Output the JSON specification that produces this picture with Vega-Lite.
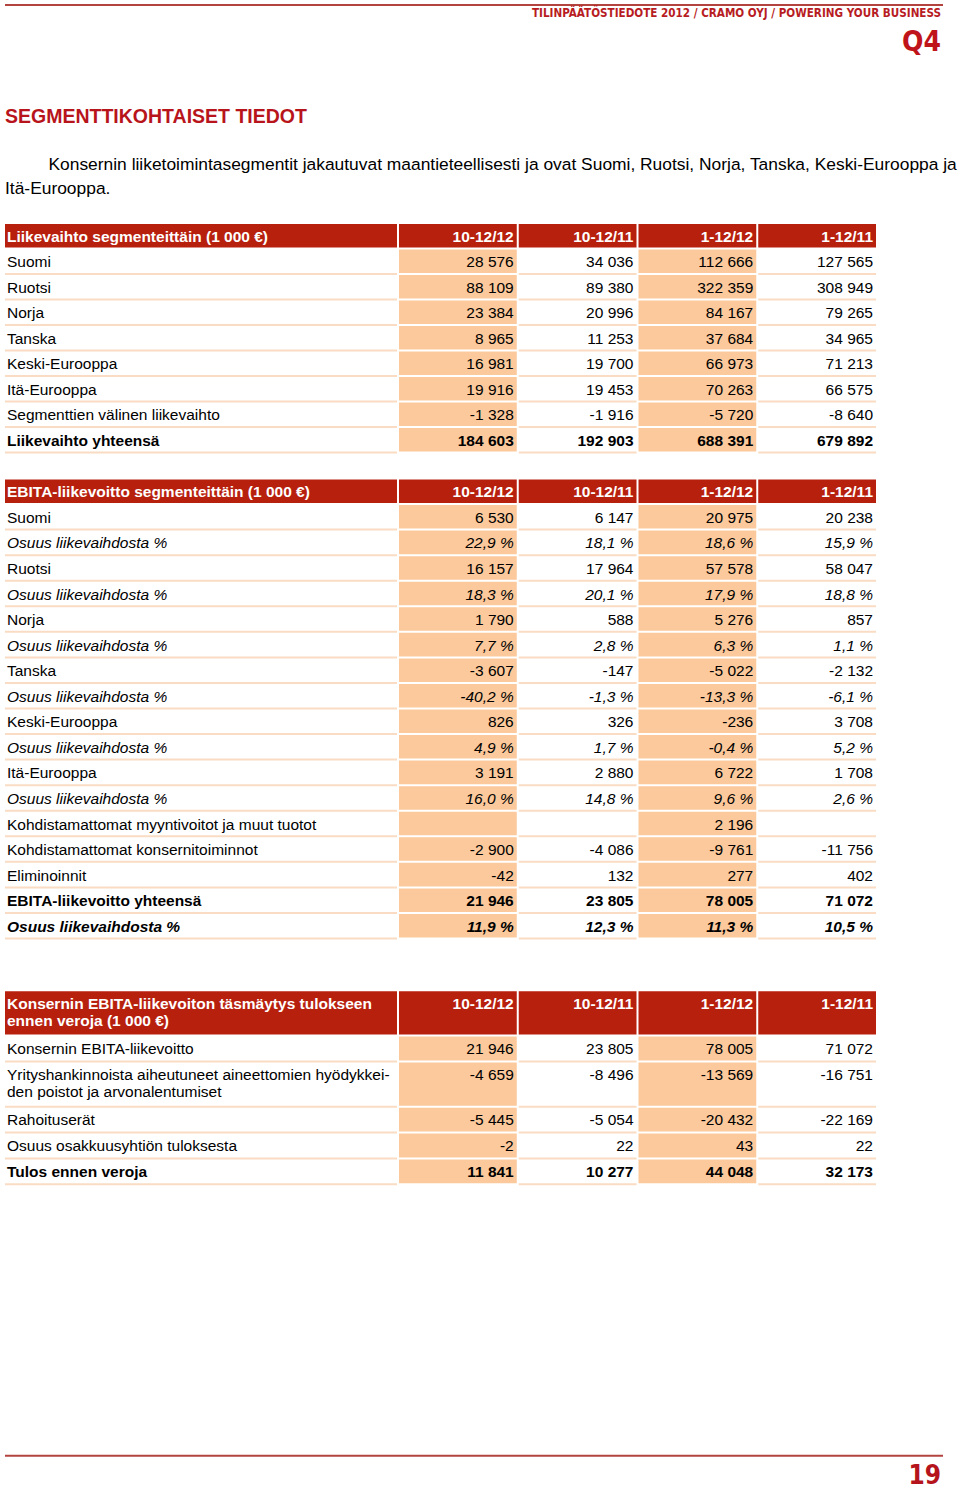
{
  "$schema": "https://vega.github.io/schema/vega-lite/v6.json",
  "padding": {"left": 4, "top": 4, "right": 0, "bottom": 0},
  "autosize": {"type": "pad"},
  "background": "#ffffff",
  "config": {"view": {"stroke": null}, "font": "Liberation Sans"},
  "datasets": {
    "rows": [
      {"t": 1, "row": 0, "rowEnd": 1, "kind": "header", "label": "Liikevaihto segmenteittäin (1 000 €)", "10-12/12": "10-12/12", "10-12/11": "10-12/11", "1-12/12": "1-12/12", "1-12/11": "1-12/11"},
      {"t": 1, "row": 1, "rowEnd": 2, "kind": "body", "label": "Suomi", "10-12/12": "28 576", "10-12/11": "34 036", "1-12/12": "112 666", "1-12/11": "127 565"},
      {"t": 1, "row": 2, "rowEnd": 3, "kind": "body", "label": "Ruotsi", "10-12/12": "88 109", "10-12/11": "89 380", "1-12/12": "322 359", "1-12/11": "308 949"},
      {"t": 1, "row": 3, "rowEnd": 4, "kind": "body", "label": "Norja", "10-12/12": "23 384", "10-12/11": "20 996", "1-12/12": "84 167", "1-12/11": "79 265"},
      {"t": 1, "row": 4, "rowEnd": 5, "kind": "body", "label": "Tanska", "10-12/12": "8 965", "10-12/11": "11 253", "1-12/12": "37 684", "1-12/11": "34 965"},
      {"t": 1, "row": 5, "rowEnd": 6, "kind": "body", "label": "Keski-Eurooppa", "10-12/12": "16 981", "10-12/11": "19 700", "1-12/12": "66 973", "1-12/11": "71 213"},
      {"t": 1, "row": 6, "rowEnd": 7, "kind": "body", "label": "Itä-Eurooppa", "10-12/12": "19 916", "10-12/11": "19 453", "1-12/12": "70 263", "1-12/11": "66 575"},
      {"t": 1, "row": 7, "rowEnd": 8, "kind": "body", "label": "Segmenttien välinen liikevaihto", "10-12/12": "-1 328", "10-12/11": "-1 916", "1-12/12": "-5 720", "1-12/11": "-8 640"},
      {"t": 1, "row": 8, "rowEnd": 9, "kind": "total", "label": "Liikevaihto yhteensä", "10-12/12": "184 603", "10-12/11": "192 903", "1-12/12": "688 391", "1-12/11": "679 892"},

      {"t": 2, "row": 0, "rowEnd": 1, "kind": "header", "label": "EBITA-liikevoitto segmenteittäin (1 000 €)", "10-12/12": "10-12/12", "10-12/11": "10-12/11", "1-12/12": "1-12/12", "1-12/11": "1-12/11"},
      {"t": 2, "row": 1, "rowEnd": 2, "kind": "body", "label": "Suomi", "10-12/12": "6 530", "10-12/11": "6 147", "1-12/12": "20 975", "1-12/11": "20 238"},
      {"t": 2, "row": 2, "rowEnd": 3, "kind": "share", "label": "Osuus liikevaihdosta %", "10-12/12": "22,9 %", "10-12/11": "18,1 %", "1-12/12": "18,6 %", "1-12/11": "15,9 %"},
      {"t": 2, "row": 3, "rowEnd": 4, "kind": "body", "label": "Ruotsi", "10-12/12": "16 157", "10-12/11": "17 964", "1-12/12": "57 578", "1-12/11": "58 047"},
      {"t": 2, "row": 4, "rowEnd": 5, "kind": "share", "label": "Osuus liikevaihdosta %", "10-12/12": "18,3 %", "10-12/11": "20,1 %", "1-12/12": "17,9 %", "1-12/11": "18,8 %"},
      {"t": 2, "row": 5, "rowEnd": 6, "kind": "body", "label": "Norja", "10-12/12": "1 790", "10-12/11": "588", "1-12/12": "5 276", "1-12/11": "857"},
      {"t": 2, "row": 6, "rowEnd": 7, "kind": "share", "label": "Osuus liikevaihdosta %", "10-12/12": "7,7 %", "10-12/11": "2,8 %", "1-12/12": "6,3 %", "1-12/11": "1,1 %"},
      {"t": 2, "row": 7, "rowEnd": 8, "kind": "body", "label": "Tanska", "10-12/12": "-3 607", "10-12/11": "-147", "1-12/12": "-5 022", "1-12/11": "-2 132"},
      {"t": 2, "row": 8, "rowEnd": 9, "kind": "share", "label": "Osuus liikevaihdosta %", "10-12/12": "-40,2 %", "10-12/11": "-1,3 %", "1-12/12": "-13,3 %", "1-12/11": "-6,1 %"},
      {"t": 2, "row": 9, "rowEnd": 10, "kind": "body", "label": "Keski-Eurooppa", "10-12/12": "826", "10-12/11": "326", "1-12/12": "-236", "1-12/11": "3 708"},
      {"t": 2, "row": 10, "rowEnd": 11, "kind": "share", "label": "Osuus liikevaihdosta %", "10-12/12": "4,9 %", "10-12/11": "1,7 %", "1-12/12": "-0,4 %", "1-12/11": "5,2 %"},
      {"t": 2, "row": 11, "rowEnd": 12, "kind": "body", "label": "Itä-Eurooppa", "10-12/12": "3 191", "10-12/11": "2 880", "1-12/12": "6 722", "1-12/11": "1 708"},
      {"t": 2, "row": 12, "rowEnd": 13, "kind": "share", "label": "Osuus liikevaihdosta %", "10-12/12": "16,0 %", "10-12/11": "14,8 %", "1-12/12": "9,6 %", "1-12/11": "2,6 %"},
      {"t": 2, "row": 13, "rowEnd": 14, "kind": "body", "label": "Kohdistamattomat myyntivoitot ja muut tuotot", "10-12/12": "", "10-12/11": "", "1-12/12": "2 196", "1-12/11": ""},
      {"t": 2, "row": 14, "rowEnd": 15, "kind": "body", "label": "Kohdistamattomat konsernitoiminnot", "10-12/12": "-2 900", "10-12/11": "-4 086", "1-12/12": "-9 761", "1-12/11": "-11 756"},
      {"t": 2, "row": 15, "rowEnd": 16, "kind": "body", "label": "Eliminoinnit", "10-12/12": "-42", "10-12/11": "132", "1-12/12": "277", "1-12/11": "402"},
      {"t": 2, "row": 16, "rowEnd": 17, "kind": "total", "label": "EBITA-liikevoitto yhteensä", "10-12/12": "21 946", "10-12/11": "23 805", "1-12/12": "78 005", "1-12/11": "71 072"},
      {"t": 2, "row": 17, "rowEnd": 18, "kind": "sharetotal", "label": "Osuus liikevaihdosta %", "10-12/12": "11,9 %", "10-12/11": "12,3 %", "1-12/12": "11,3 %", "1-12/11": "10,5 %"},

      {"t": 3, "row": 0, "rowEnd": 7, "kind": "header", "label": "Konsernin EBITA-liikevoiton täsmäytys tulokseen\nennen veroja (1 000 €)", "10-12/12": "10-12/12", "10-12/11": "10-12/11", "1-12/12": "1-12/12", "1-12/11": "1-12/11"},
      {"t": 3, "row": 7, "rowEnd": 11, "kind": "body", "label": "Konsernin EBITA-liikevoitto", "10-12/12": "21 946", "10-12/11": "23 805", "1-12/12": "78 005", "1-12/11": "71 072"},
      {"t": 3, "row": 11, "rowEnd": 18, "kind": "body", "label": "Yrityshankinnoista aiheutuneet aineettomien hyödykkei-\nden poistot ja arvonalentumiset", "10-12/12": "-4 659", "10-12/11": "-8 496", "1-12/12": "-13 569", "1-12/11": "-16 751"},
      {"t": 3, "row": 18, "rowEnd": 22, "kind": "body", "label": "Rahoituserät", "10-12/12": "-5 445", "10-12/11": "-5 054", "1-12/12": "-20 432", "1-12/11": "-22 169"},
      {"t": 3, "row": 22, "rowEnd": 26, "kind": "body", "label": "Osuus osakkuusyhtiön tuloksesta", "10-12/12": "-2", "10-12/11": "22", "1-12/12": "43", "1-12/11": "22"},
      {"t": 3, "row": 26, "rowEnd": 30, "kind": "total", "label": "Tulos ennen veroja", "10-12/12": "11 841", "10-12/11": "10 277", "1-12/12": "44 048", "1-12/11": "32 173"}
    ]
  },
  "spacing": 50,
  "vconcat": [
    {
      "width": 938, "height": 2,
      "data": {"values": [{"edge": "top"}]},
      "mark": {"type": "rule", "color": "#b3433f", "strokeWidth": 2},
      "encoding": {"y": {"datum": 1, "type": "quantitative", "scale": {"domain": [0, 2]}, "axis": null}},
      "title": {"text": "TILINPÄÄTÖSTIEDOTE 2012 / CRAMO OYJ / POWERING YOUR BUSINESS", "subtitle": "Q4", "orient": "bottom", "anchor": "end", "dx": -3, "offset": 2, "font": "Liberation Sans Narrow, DejaVu Sans Condensed, sans-serif", "fontSize": 11.6, "fontWeight": "bold", "color": "#b81c23", "subtitleFont": "Liberation Sans Narrow, DejaVu Sans Condensed, sans-serif", "subtitleFontSize": 28, "subtitleFontWeight": "bold", "subtitleColor": "#c0141b", "subtitlePadding": 9}
    },
    {
      "spacing": 25.5,
      "vconcat": [
        {
          "title": {"text": "SEGMENTTIKOHTAISET TIEDOT", "subtitle": ["\u200b\u00a0\u00a0\u00a0\u00a0\u00a0\u00a0\u00a0\u00a0\u00a0Konsernin liiketoimintasegmentit jakautuvat maantieteellisesti ja ovat Suomi, Ruotsi, Norja, Tanska, Keski-Eurooppa ja", "Itä-Eurooppa."], "anchor": "start", "orient": "top", "dx": 0, "offset": 26, "font": "Liberation Sans", "fontSize": 19.5, "fontWeight": "bold", "color": "#b8141b", "subtitleFont": "Liberation Sans", "subtitleFontSize": 17.4, "subtitleColor": "#000000", "subtitleFontWeight": "normal", "subtitleLineHeight": 24, "subtitlePadding": 28},
          "spacing": 2,
          "hconcat": [
            {
              "width": 392, "height": 229.5,
              "data": {"name": "rows"},
              "transform": [{"filter": "datum.t == 1"}],
              "encoding": {"y": {"field": "row", "type": "quantitative", "scale": {"domain": [0, 9], "reverse": true, "nice": false, "zero": false}, "axis": null}},
              "layer": [
                {"transform": [{"filter": "datum.kind == 'header'"}], "mark": {"type": "rect", "color": "#b8200e", "y2Offset": -2}, "encoding": {"y2": {"field": "rowEnd"}}},
                {"transform": [{"filter": "datum.kind != 'header'"}], "mark": {"type": "rect", "color": "#f9dcc3", "yOffset": -2}, "encoding": {"y": {"field": "rowEnd", "type": "quantitative"}, "y2": {"field": "rowEnd"}}},
                {"mark": {"type": "text", "align": "left", "baseline": "alphabetic", "dx": 2, "dy": 17.8, "font": "Liberation Sans", "fontSize": 15.5, "lineBreak": "\n", "lineHeight": 17.5, "fontWeight": {"expr": "datum.kind == 'header' || datum.kind == 'total' || datum.kind == 'sharetotal' ? 'bold' : 'normal'"}, "fontStyle": {"expr": "datum.kind == 'share' || datum.kind == 'sharetotal' ? 'italic' : 'normal'"}},
                 "encoding": {"x": {"datum": 0, "type": "quantitative", "scale": {"domain": [0, 1]}, "axis": null}, "text": {"field": "label"}, "color": {"field": "kind", "type": "nominal", "scale": {"domain": ["header", "body", "total", "share", "sharetotal"], "range": ["#ffffff", "#000000", "#000000", "#000000", "#000000"]}, "legend": null}}}
              ]
            },
            {
              "width": 477, "height": 229.5,
              "data": {"name": "rows"},
              "transform": [{"filter": "datum.t == 1"}, {"fold": ["10-12/12", "10-12/11", "1-12/12", "1-12/11"], "as": ["col", "val"]}],
              "encoding": {
                "x": {"field": "col", "type": "nominal", "scale": {"type": "band", "domain": ["10-12/12", "10-12/11", "1-12/12", "1-12/11"], "paddingInner": 0.0167, "paddingOuter": 0}, "axis": null},
                "y": {"field": "row", "type": "quantitative", "scale": {"domain": [0, 9], "reverse": true, "nice": false, "zero": false}, "axis": null}
              },
              "layer": [
                {"transform": [{"filter": "datum.kind == 'header'"}], "mark": {"type": "rect", "color": "#b8200e", "y2Offset": -2}, "encoding": {"y2": {"field": "rowEnd"}}},
                {"transform": [{"filter": "datum.kind != 'header' && (datum.col == '10-12/12' || datum.col == '1-12/12')"}], "mark": {"type": "rect", "color": "#fbc99b", "y2Offset": -2}, "encoding": {"y2": {"field": "rowEnd"}}},
                {"transform": [{"filter": "datum.kind != 'header' && (datum.col == '10-12/11' || datum.col == '1-12/11')"}], "mark": {"type": "rect", "color": "#f9dcc3", "yOffset": -2}, "encoding": {"y": {"field": "rowEnd", "type": "quantitative"}, "y2": {"field": "rowEnd"}}},
                {"mark": {"type": "text", "align": "right", "baseline": "alphabetic", "dx": -3, "dy": 17.8, "font": "Liberation Sans", "fontSize": 15.5, "fontWeight": {"expr": "datum.kind == 'header' || datum.kind == 'total' || datum.kind == 'sharetotal' ? 'bold' : 'normal'"}, "fontStyle": {"expr": "datum.kind == 'share' || datum.kind == 'sharetotal' ? 'italic' : 'normal'"}},
                 "encoding": {"x": {"field": "col", "type": "nominal", "bandPosition": 1, "scale": {"type": "band", "domain": ["10-12/12", "10-12/11", "1-12/12", "1-12/11"], "paddingInner": 0.0167, "paddingOuter": 0}, "axis": null}, "text": {"field": "val"}, "color": {"field": "kind", "type": "nominal", "scale": {"domain": ["header", "body", "total", "share", "sharetotal"], "range": ["#ffffff", "#000000", "#000000", "#000000", "#000000"]}, "legend": null}}}
              ]
            }
          ]
        },
        {
          "spacing": 51.8,
          "vconcat": [
            {
              "spacing": 2,
              "hconcat": [
                {
                  "width": 392, "height": 460,
                  "data": {"name": "rows"},
                  "transform": [{"filter": "datum.t == 2"}],
                  "encoding": {"y": {"field": "row", "type": "quantitative", "scale": {"domain": [0, 18], "reverse": true, "nice": false, "zero": false}, "axis": null}},
                  "layer": [
                    {"transform": [{"filter": "datum.kind == 'header'"}], "mark": {"type": "rect", "color": "#b8200e", "y2Offset": -2}, "encoding": {"y2": {"field": "rowEnd"}}},
                    {"transform": [{"filter": "datum.kind != 'header'"}], "mark": {"type": "rect", "color": "#f9dcc3", "yOffset": -2}, "encoding": {"y": {"field": "rowEnd", "type": "quantitative"}, "y2": {"field": "rowEnd"}}},
                    {"mark": {"type": "text", "align": "left", "baseline": "alphabetic", "dx": 2, "dy": 17.8, "font": "Liberation Sans", "fontSize": 15.5, "lineBreak": "\n", "lineHeight": 17.5, "fontWeight": {"expr": "datum.kind == 'header' || datum.kind == 'total' || datum.kind == 'sharetotal' ? 'bold' : 'normal'"}, "fontStyle": {"expr": "datum.kind == 'share' || datum.kind == 'sharetotal' ? 'italic' : 'normal'"}},
                     "encoding": {"x": {"datum": 0, "type": "quantitative", "scale": {"domain": [0, 1]}, "axis": null}, "text": {"field": "label"}, "color": {"field": "kind", "type": "nominal", "scale": {"domain": ["header", "body", "total", "share", "sharetotal"], "range": ["#ffffff", "#000000", "#000000", "#000000", "#000000"]}, "legend": null}}}
                  ]
                },
                {
                  "width": 477, "height": 460,
                  "data": {"name": "rows"},
                  "transform": [{"filter": "datum.t == 2"}, {"fold": ["10-12/12", "10-12/11", "1-12/12", "1-12/11"], "as": ["col", "val"]}],
                  "encoding": {
                    "x": {"field": "col", "type": "nominal", "scale": {"type": "band", "domain": ["10-12/12", "10-12/11", "1-12/12", "1-12/11"], "paddingInner": 0.0167, "paddingOuter": 0}, "axis": null},
                    "y": {"field": "row", "type": "quantitative", "scale": {"domain": [0, 18], "reverse": true, "nice": false, "zero": false}, "axis": null}
                  },
                  "layer": [
                    {"transform": [{"filter": "datum.kind == 'header'"}], "mark": {"type": "rect", "color": "#b8200e", "y2Offset": -2}, "encoding": {"y2": {"field": "rowEnd"}}},
                    {"transform": [{"filter": "datum.kind != 'header' && (datum.col == '10-12/12' || datum.col == '1-12/12')"}], "mark": {"type": "rect", "color": "#fbc99b", "y2Offset": -2}, "encoding": {"y2": {"field": "rowEnd"}}},
                    {"transform": [{"filter": "datum.kind != 'header' && (datum.col == '10-12/11' || datum.col == '1-12/11')"}], "mark": {"type": "rect", "color": "#f9dcc3", "yOffset": -2}, "encoding": {"y": {"field": "rowEnd", "type": "quantitative"}, "y2": {"field": "rowEnd"}}},
                    {"mark": {"type": "text", "align": "right", "baseline": "alphabetic", "dx": -3, "dy": 17.8, "font": "Liberation Sans", "fontSize": 15.5, "fontWeight": {"expr": "datum.kind == 'header' || datum.kind == 'total' || datum.kind == 'sharetotal' ? 'bold' : 'normal'"}, "fontStyle": {"expr": "datum.kind == 'share' || datum.kind == 'sharetotal' ? 'italic' : 'normal'"}},
                     "encoding": {"x": {"field": "col", "type": "nominal", "bandPosition": 1, "scale": {"type": "band", "domain": ["10-12/12", "10-12/11", "1-12/12", "1-12/11"], "paddingInner": 0.0167, "paddingOuter": 0}, "axis": null}, "text": {"field": "val"}, "color": {"field": "kind", "type": "nominal", "scale": {"domain": ["header", "body", "total", "share", "sharetotal"], "range": ["#ffffff", "#000000", "#000000", "#000000", "#000000"]}, "legend": null}}}
                  ]
                }
              ]
            },
            {
              "spacing": 269.5,
              "vconcat": [
                {
                  "spacing": 2,
                  "hconcat": [
                    {
                      "width": 392, "height": 194,
                      "data": {"name": "rows"},
                      "transform": [{"filter": "datum.t == 3"}],
                      "encoding": {"y": {"field": "row", "type": "quantitative", "scale": {"domain": [0, 30], "reverse": true, "nice": false, "zero": false}, "axis": null}},
                      "layer": [
                        {"transform": [{"filter": "datum.kind == 'header'"}], "mark": {"type": "rect", "color": "#b8200e", "y2Offset": -2}, "encoding": {"y2": {"field": "rowEnd"}}},
                        {"transform": [{"filter": "datum.kind != 'header'"}], "mark": {"type": "rect", "color": "#f9dcc3", "yOffset": -2}, "encoding": {"y": {"field": "rowEnd", "type": "quantitative"}, "y2": {"field": "rowEnd"}}},
                        {"mark": {"type": "text", "align": "left", "baseline": "alphabetic", "dx": 2, "dy": 17.3, "font": "Liberation Sans", "fontSize": 15.5, "lineBreak": "\n", "lineHeight": 17.5, "fontWeight": {"expr": "datum.kind == 'header' || datum.kind == 'total' || datum.kind == 'sharetotal' ? 'bold' : 'normal'"}, "fontStyle": {"expr": "datum.kind == 'share' || datum.kind == 'sharetotal' ? 'italic' : 'normal'"}},
                         "encoding": {"x": {"datum": 0, "type": "quantitative", "scale": {"domain": [0, 1]}, "axis": null}, "text": {"field": "label"}, "color": {"field": "kind", "type": "nominal", "scale": {"domain": ["header", "body", "total", "share", "sharetotal"], "range": ["#ffffff", "#000000", "#000000", "#000000", "#000000"]}, "legend": null}}}
                      ]
                    },
                    {
                      "width": 477, "height": 194,
                      "data": {"name": "rows"},
                      "transform": [{"filter": "datum.t == 3"}, {"fold": ["10-12/12", "10-12/11", "1-12/12", "1-12/11"], "as": ["col", "val"]}],
                      "encoding": {
                        "x": {"field": "col", "type": "nominal", "scale": {"type": "band", "domain": ["10-12/12", "10-12/11", "1-12/12", "1-12/11"], "paddingInner": 0.0167, "paddingOuter": 0}, "axis": null},
                        "y": {"field": "row", "type": "quantitative", "scale": {"domain": [0, 30], "reverse": true, "nice": false, "zero": false}, "axis": null}
                      },
                      "layer": [
                        {"transform": [{"filter": "datum.kind == 'header'"}], "mark": {"type": "rect", "color": "#b8200e", "y2Offset": -2}, "encoding": {"y2": {"field": "rowEnd"}}},
                        {"transform": [{"filter": "datum.kind != 'header' && (datum.col == '10-12/12' || datum.col == '1-12/12')"}], "mark": {"type": "rect", "color": "#fbc99b", "y2Offset": -2}, "encoding": {"y2": {"field": "rowEnd"}}},
                        {"transform": [{"filter": "datum.kind != 'header' && (datum.col == '10-12/11' || datum.col == '1-12/11')"}], "mark": {"type": "rect", "color": "#f9dcc3", "yOffset": -2}, "encoding": {"y": {"field": "rowEnd", "type": "quantitative"}, "y2": {"field": "rowEnd"}}},
                        {"mark": {"type": "text", "align": "right", "baseline": "alphabetic", "dx": -3, "dy": 17.3, "font": "Liberation Sans", "fontSize": 15.5, "fontWeight": {"expr": "datum.kind == 'header' || datum.kind == 'total' || datum.kind == 'sharetotal' ? 'bold' : 'normal'"}, "fontStyle": {"expr": "datum.kind == 'share' || datum.kind == 'sharetotal' ? 'italic' : 'normal'"}},
                         "encoding": {"x": {"field": "col", "type": "nominal", "bandPosition": 1, "scale": {"type": "band", "domain": ["10-12/12", "10-12/11", "1-12/12", "1-12/11"], "paddingInner": 0.0167, "paddingOuter": 0}, "axis": null}, "text": {"field": "val"}, "color": {"field": "kind", "type": "nominal", "scale": {"domain": ["header", "body", "total", "share", "sharetotal"], "range": ["#ffffff", "#000000", "#000000", "#000000", "#000000"]}, "legend": null}}}
                      ]
                    }
                  ]
                },
                {
                  "width": 938, "height": 2,
                  "data": {"values": [{"edge": "bottom"}]},
                  "mark": {"type": "rule", "color": "#b3433f", "strokeWidth": 2},
                  "encoding": {"y": {"datum": 1, "type": "quantitative", "scale": {"domain": [0, 2]}, "axis": null}},
                  "title": {"text": "19", "orient": "bottom", "anchor": "end", "dx": -3, "offset": 6, "font": "Liberation Sans Narrow, DejaVu Sans Condensed, sans-serif", "fontSize": 26, "fontWeight": "bold", "color": "#b5141c"}
                }
              ]
            }
          ]
        }
      ]
    }
  ]
}
